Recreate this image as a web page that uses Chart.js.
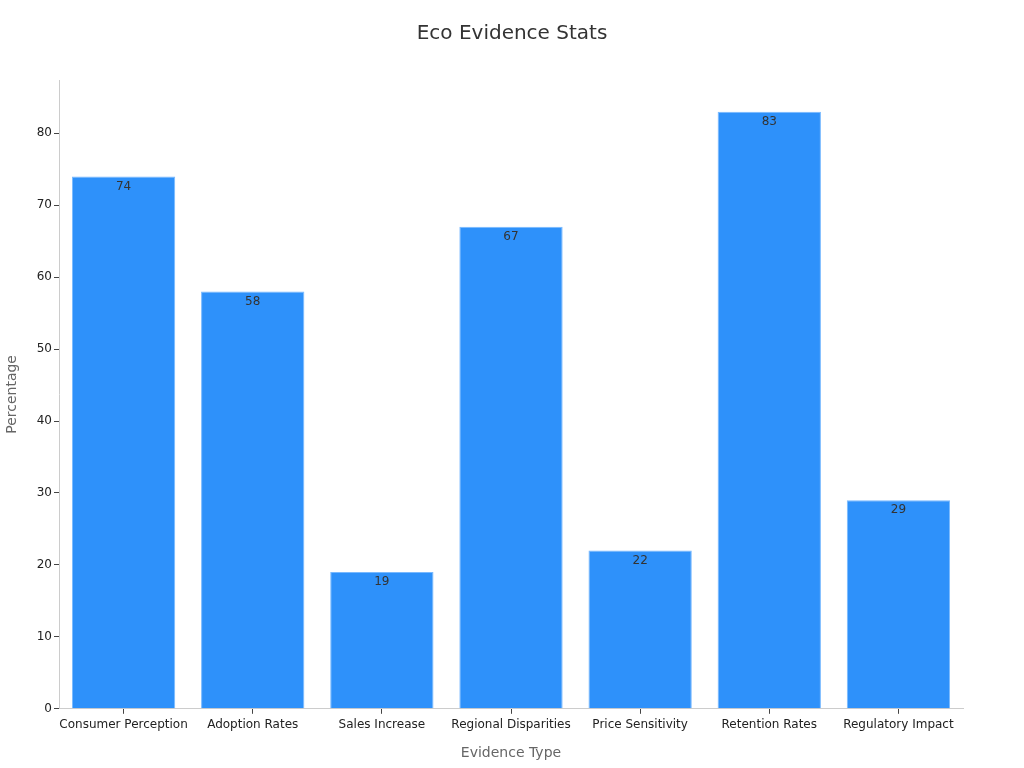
<!DOCTYPE html>
<html>
<head>
<meta charset="utf-8">
<script src="https://cdn.jsdelivr.net/npm/chart.js@4/dist/chart.umd.min.js"></script>
<style>
  html, body { margin: 0; padding: 0; background: #fff; }
  #wrap { width: 1024px; height: 768px; }
</style>
</head>
<body>
<div id="wrap"><canvas id="barChart" width="1024" height="768"></canvas></div>
<script>
// 数据
const categories = ['Consumer Perception', 'Adoption Rates', 'Sales Increase', 'Regional Disparities',
  'Price Sensitivity', 'Retention Rates', 'Regulatory Impact'];
const percentages = [74, 58, 19, 67, 22, 83, 29];
const yTicks = [0, 10, 20, 30, 40, 50, 60, 70, 80];
const chartTitle = 'Eco Evidence Stats';

const fontFamily = '"DejaVu Sans", Verdana, sans-serif';

// 标题（画布居中）和柱顶数值标签
const valueLabels = {
  id: 'valueLabels',
  afterDatasetsDraw(chart) {
    const ctx = chart.ctx;
    const meta = chart.getDatasetMeta(0);
    ctx.save();
    ctx.font = '12px ' + fontFamily;
    ctx.fillStyle = '#333';
    ctx.textAlign = 'center';
    ctx.textBaseline = 'middle';
    meta.data.forEach((bar, i) => {
      ctx.fillText(String(percentages[i]), bar.x, bar.y + 10);
    });
    ctx.font = '20px ' + fontFamily;
    ctx.fillStyle = '#333';
    ctx.fillText(chartTitle, chart.width / 2, 34);
    ctx.restore();
  }
};

const ctx = document.getElementById('barChart').getContext('2d');
new Chart(ctx, {
  type: 'bar',
  data: {
    labels: categories,
    datasets: [{
      label: 'Percentage',
      data: percentages,
      backgroundColor: 'rgb(46, 145, 250)',
      borderColor: 'rgba(120, 185, 255, 1)',
      borderWidth: 1,
      barPercentage: 0.8,
      categoryPercentage: 1.0
    }]
  },
  options: {
    responsive: false,
    animation: false,
    layout: { padding: { left: 0, right: 61, top: 80, bottom: 2 } },
    scales: {
      x: {
        grid: { display: true, offset: false, drawOnChartArea: false, drawTicks: true, tickLength: 5, color: '#444' },
        border: { display: true, color: '#ccc' },
        ticks: { color: '#222', font: { family: fontFamily, size: 12 }, maxRotation: 0, autoSkip: false, padding: 4 },
        title: { display: true, text: 'Evidence Type', color: '#666', font: { family: fontFamily, size: 14 }, padding: { top: 9 } }
      },
      y: {
        min: 0,
        max: 87.4,
        afterBuildTicks(scale) {
          scale.ticks = yTicks.map(v => ({ value: v }));
        },
        afterFit(scale) {
          scale.width = 59;
        },
        grid: { display: true, drawOnChartArea: false, drawTicks: true, tickLength: 5, color: '#444' },
        border: { display: true, color: '#ccc' },
        ticks: { color: '#222', font: { family: fontFamily, size: 12 }, padding: 2 },
        title: { display: true, text: 'Percentage', color: '#666', font: { family: fontFamily, size: 14 }, padding: { bottom: 8 } }
      }
    },
    plugins: {
      legend: { display: false },
      tooltip: { enabled: false },
      title: { display: false }
    }
  },
  plugins: [valueLabels]
});
</script>
</body>
</html>
